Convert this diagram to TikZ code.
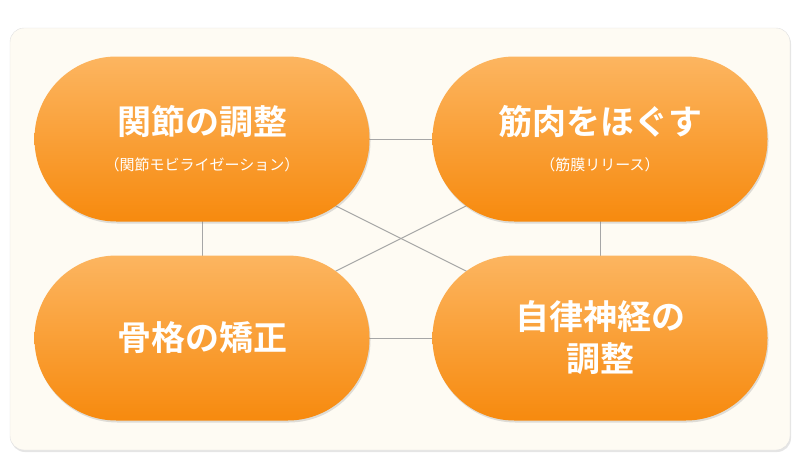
\documentclass[tikz,border=0pt]{standalone}
\usepackage{fontspec}
\newfontfamily\cjk{Noto Sans CJK JP}[BoldFont={* Bold}]
\newcommand\subtxt{\mdseries\fontsize{15}{18}\selectfont}
\usetikzlibrary{shadows}
\definecolor{cream}{HTML}{FEFBF3}
\definecolor{otop}{HTML}{FCB560}
\definecolor{obot}{HTML}{F78A0E}
\begin{document}
\begin{tikzpicture}[x=1pt,y=-1pt,
  pill/.style={rounded corners=82pt,minimum width=335pt,minimum height=165pt,
    top color=otop,bottom color=obot,draw=none,text=white,align=center,
    font=\cjk\bfseries\fontsize{34}{42}\selectfont,
    drop shadow={shadow xshift=1pt,shadow yshift=-2pt,opacity=0.25}},
  link/.style={draw=black!35,line width=1pt}]
\useasboundingbox (0,0) rectangle (800,475);
\fill[white] (0,0) rectangle (800,475);
\node[draw=black!12,fill=cream,rounded corners=14pt,minimum width=780pt,minimum height=422pt,
  drop shadow={shadow xshift=1pt,shadow yshift=-2pt,opacity=0.2}] (panel) at (400,239) {};
\coordinate (tl) at (202,139);
\coordinate (tr) at (600,139);
\coordinate (bl) at (202,338);
\coordinate (br) at (600,338);
\draw[link] (tl) -- (tr);
\draw[link] (bl) -- (br);
\draw[link] (tl) -- (bl);
\draw[link] (tr) -- (br);
\draw[link] (tl) -- (br);
\draw[link] (tr) -- (bl);
\node[pill] (a) at (tl) {関節の調整\\[-6pt]{\subtxt （関節モビライゼーション）}};
\node[pill] (b) at (tr) {筋肉をほぐす\\[-6pt]{\subtxt （筋膜リリース）}};
\node[pill] (c) at (bl) {骨格の矯正};
\node[pill] (d) at (br) {自律神経の\\調整};
\end{tikzpicture}
\end{document}
